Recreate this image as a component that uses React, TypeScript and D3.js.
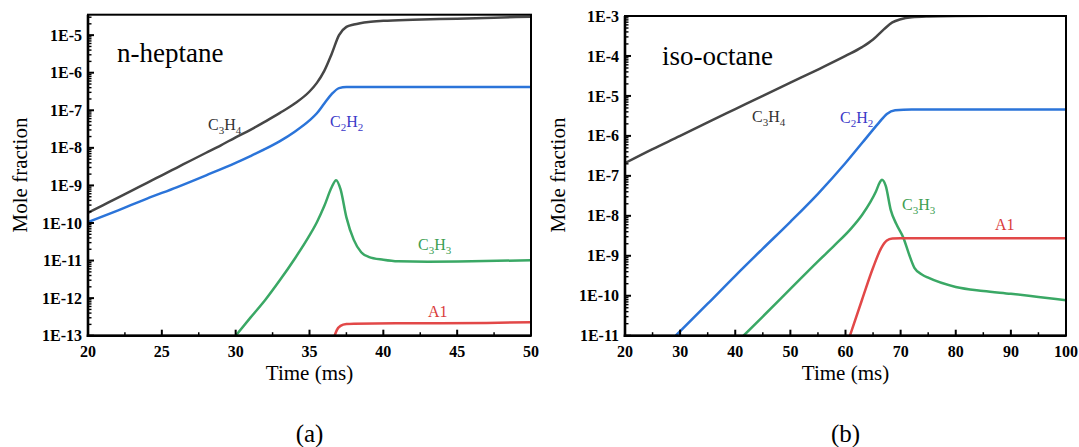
import * as d3 from "d3";

// ---- data (time in ms, mole fraction) ----
const hepC3H4T = [20, 21, 22, 23, 24, 25, 26, 27, 28, 29, 30, 31, 32, 33, 34, 35, 35.5, 36, 36.5, 37, 37.5, 38, 39, 40, 42, 45, 48, 50];
const hepC3H4 = [1.86e-10, 2.95e-10, 4.68e-10, 7.41e-10, 1.17e-9, 1.86e-9, 2.95e-9, 4.68e-9, 7.41e-9, 1.17e-8, 1.91e-8, 3.02e-8, 5.01e-8, 8.51e-8, 1.51e-7, 3.16e-7, 5.37e-7, 1.12e-6, 3.16e-6, 1.0e-5, 1.66e-5, 1.91e-5, 2.24e-5, 2.4e-5, 2.57e-5, 2.75e-5, 2.95e-5, 3.09e-5];

const hepC2H2T = [20, 22, 24, 26, 28, 30, 31, 32, 33, 34, 35, 35.5, 36, 36.5, 37, 37.5, 40, 50];
const hepC2H2 = [1.05e-10, 2.14e-10, 4.47e-10, 8.91e-10, 1.86e-9, 3.98e-9, 6.03e-9, 9.33e-9, 1.51e-8, 2.69e-8, 5.37e-8, 8.32e-8, 1.51e-7, 2.69e-7, 3.89e-7, 4.17e-7, 4.17e-7, 4.17e-7];

const hepC3H3T = [30, 31, 32, 33, 34, 35, 35.5, 36, 36.5, 36.8, 37.1, 37.5, 38, 38.5, 39, 40, 41, 43, 46, 50];
const hepC3H3 = [1.0e-13, 3.02e-13, 8.91e-13, 3.02e-12, 1.12e-11, 4.68e-11, 1.05e-10, 2.82e-10, 8.91e-10, 1.38e-9, 7.94e-10, 1.41e-10, 3.55e-11, 1.66e-11, 1.26e-11, 1.05e-11, 9.55e-12, 9.33e-12, 9.55e-12, 1.02e-11];

const hepA1T = [36.7, 36.85, 37.1, 37.5, 38, 42, 47, 50];
const hepA1 = [1.0e-13, 1.41e-13, 1.82e-13, 2.04e-13, 2.09e-13, 2.14e-13, 2.19e-13, 2.29e-13];

const isoC3H4T = [20, 25, 30, 35, 40, 45, 50, 55, 60, 63, 65, 67, 68.5, 70, 72, 75, 80, 90, 100];
const isoC3H4 = [2.09e-7, 4.68e-7, 1.0e-6, 2.19e-6, 4.68e-6, 1.0e-5, 2.14e-5, 4.57e-5, 1.0e-4, 1.66e-4, 2.57e-4, 4.68e-4, 6.92e-4, 8.32e-4, 9.33e-4, 9.77e-4, 1.0e-3, 1.01e-3, 1.02e-3];

const isoC2H2T = [29.2, 35, 40, 45, 50, 55, 60, 63, 66, 67.5, 69, 72, 100];
const isoC2H2 = [1.0e-11, 6.31e-11, 3.16e-10, 1.51e-9, 7.08e-9, 3.55e-8, 2.09e-7, 6.61e-7, 2.09e-6, 3.55e-6, 4.37e-6, 4.57e-6, 4.57e-6];

const isoC3H3T = [41.5, 45, 50, 55, 58, 61, 63, 64.5, 65.5, 66.2, 66.6, 67.3, 68.2, 69.2, 70.5, 71.5, 72.5, 74, 75, 80, 85, 90, 95, 100];
const isoC3H3 = [1.0e-11, 3.02e-11, 1.48e-10, 7.24e-10, 1.82e-9, 4.79e-9, 1.05e-8, 2.19e-8, 3.98e-8, 6.76e-8, 7.94e-8, 5.62e-8, 1.41e-8, 6.31e-9, 2.82e-9, 1.12e-9, 5.01e-10, 3.31e-10, 2.82e-10, 1.66e-10, 1.32e-10, 1.12e-10, 9.33e-11, 7.76e-11];

const isoA1T = [60.8, 63, 65, 66.5, 67.5, 68.5, 70, 100];
const isoA1 = [1.0e-11, 7.94e-11, 5.01e-10, 1.58e-9, 2.4e-9, 2.69e-9, 2.75e-9, 2.75e-9];

const hepXTicks = [20, 25, 30, 35, 40, 45, 50];
const isoXTicks = [20, 30, 40, 50, 60, 70, 80, 90, 100];
const hepYExps = [-13, -12, -11, -10, -9, -8, -7, -6, -5];
const isoYExps = [-11, -10, -9, -8, -7, -6, -5, -4, -3];

const FONT = "'Liberation Serif', 'Times New Roman', serif";

const colors = {
  C3H4: "#464646",
  C2H2: "#2b74d9",
  C3H3: "#3aa865",
  A1: "#e24848",
};
const labelColors = {
  C3H4: "#333333",
  C2H2: "#3a3ac8",
  C3H3: "#3c9e52",
  A1: "#d93a3a",
};

type Series = { key: keyof typeof colors; t: number[]; v: number[] };
type Label = { key: keyof typeof colors; x: number; y: number; main: string[]; subs: string[] };

type PanelProps = {
  id: string;
  title: string;
  titleX: number;
  titleY: number;
  xDomain: [number, number];
  xRange: [number, number];
  yDomain: [number, number];
  yRange: [number, number];
  xTicks: number[];
  yExps: number[];
  series: Series[];
  labels: Label[];
  yLabelX: number;
  caption: string;
};

function Panel(p: PanelProps) {
  const x = d3.scaleLinear().domain(p.xDomain).range(p.xRange);
  const y = d3.scaleLog().domain(p.yDomain).range(p.yRange);
  const [x0, x1] = p.xRange;
  const [yb, yt] = p.yRange;

  const line = (s: Series) =>
    d3
      .line<number>()
      .x((_, i) => x(s.t[i]))
      .y((d) => y(d))
      .curve(d3.curveMonotoneX)(s.v) || "";

  // minor log ticks
  const minorY: number[] = [];
  const lo = Math.floor(Math.log10(p.yDomain[0]));
  const hi = Math.ceil(Math.log10(p.yDomain[1]));
  for (let e = lo; e < hi; e++) {
    for (let k = 2; k <= 9; k++) {
      const v = k * Math.pow(10, e);
      if (v > p.yDomain[0] && v < p.yDomain[1]) minorY.push(v);
    }
  }
  const minorX: number[] = [];
  for (let i = 0; i < p.xTicks.length - 1; i++) minorX.push((p.xTicks[i] + p.xTicks[i + 1]) / 2);

  const cx = (x0 + x1) / 2;

  return (
    <g fontFamily={FONT}>
      <defs>
        <clipPath id={`clip-${p.id}`}>
          <rect x={x0} y={yt} width={x1 - x0} height={yb - yt} />
        </clipPath>
      </defs>
      <g clipPath={`url(#clip-${p.id})`}>
        {p.series.map((s) => (
          <path key={s.key} d={line(s)} fill="none" stroke={colors[s.key]} strokeWidth={2.5} strokeLinejoin="round" />
        ))}
      </g>
      {/* frame */}
      <rect x={x0} y={yt} width={x1 - x0} height={yb - yt} fill="none" stroke="#000" strokeWidth={2} />
      <line x1={x0} x2={x0} y1={yt} y2={yb + 1.3} stroke="#000" strokeWidth={2.6} />
      <line x1={x0 - 1.3} x2={x1} y1={yb} y2={yb} stroke="#000" strokeWidth={2.6} />
      {/* y ticks */}
      {p.yExps.map((e) => (
        <g key={e}>
          <line x1={x0} x2={x0 + 6} y1={y(Math.pow(10, e))} y2={y(Math.pow(10, e))} stroke="#000" strokeWidth={2} />
          <text x={x0 - 6} y={y(Math.pow(10, e))} dy="0.35em" textAnchor="end" fontSize={16} fontWeight="bold">
            {`1E${e}`}
          </text>
        </g>
      ))}
      {minorY.map((v, i) => (
        <line key={i} x1={x0} x2={x0 + 3.5} y1={y(v)} y2={y(v)} stroke="#000" strokeWidth={1.4} />
      ))}
      {/* x ticks */}
      {p.xTicks.map((t) => (
        <g key={t}>
          <line x1={x(t)} x2={x(t)} y1={yb} y2={yb - 6} stroke="#000" strokeWidth={2} />
          <text x={x(t)} y={357} textAnchor="middle" fontSize={16} fontWeight="bold">
            {t}
          </text>
        </g>
      ))}
      {minorX.map((t, i) => (
        <line key={i} x1={x(t)} x2={x(t)} y1={yb} y2={yb - 3.5} stroke="#000" strokeWidth={1.5} />
      ))}
      {/* axis titles */}
      <text x={cx} y={380} textAnchor="middle" fontSize={21}>
        Time (ms)
      </text>
      <text transform={`translate(${p.yLabelX},175) rotate(-90)`} textAnchor="middle" fontSize={21}>
        Mole fraction
      </text>
      {/* panel title */}
      <text x={p.titleX} y={p.titleY} fontSize={27}>
        {p.title}
      </text>
      {/* species labels */}
      {p.labels.map((l) => (
        <text key={l.key} x={l.x} y={l.y} fontSize={16} fill={labelColors[l.key]}>
          {l.main.map((m, i) => [
            <tspan key={`m${i}`} dy={i > 0 && l.subs[i - 1] ? -4 : 0}>
              {m}
            </tspan>,
            l.subs[i] ? (
              <tspan key={`s${i}`} fontSize={11} dy={4}>
                {l.subs[i]}
              </tspan>
            ) : null,
          ])}
        </text>
      ))}
      {/* caption */}
      <text x={cx} y={442} textAnchor="middle" fontSize={25}>
        {p.caption}
      </text>
    </g>
  );
}

export default function App() {
  return (
    <svg
      width={1079}
      height={447}
      style={{ position: "absolute", left: 0, top: 0, background: "#fff" }}
    >
      <rect width={1079} height={447} fill="#fff" />
      <Panel
        id="a"
        title="n-heptane"
        titleX={117}
        titleY={62}
        xDomain={[20, 50]}
        xRange={[88, 531]}
        yDomain={[1e-13, 3.5e-5]}
        yRange={[335.7, 14.7]}
        xTicks={hepXTicks}
        yExps={hepYExps}
        yLabelX={27}
        caption="(a)"
        series={[
          { key: "C3H4", t: hepC3H4T, v: hepC3H4 },
          { key: "C2H2", t: hepC2H2T, v: hepC2H2 },
          { key: "C3H3", t: hepC3H3T, v: hepC3H3 },
          { key: "A1", t: hepA1T, v: hepA1 },
        ]}
        labels={[
          { key: "C3H4", x: 208, y: 130, main: ["C", "H"], subs: ["3", "4"] },
          { key: "C2H2", x: 330, y: 127, main: ["C", "H"], subs: ["2", "2"] },
          { key: "C3H3", x: 418, y: 250, main: ["C", "H"], subs: ["3", "3"] },
          { key: "A1", x: 428, y: 317, main: ["A1"], subs: [""] },
        ]}
      />
      <Panel
        id="b"
        title="iso-octane"
        titleX={662}
        titleY={65}
        xDomain={[20, 100]}
        xRange={[625, 1066]}
        yDomain={[1e-11, 1e-3]}
        yRange={[335.7, 16]}
        xTicks={isoXTicks}
        yExps={isoYExps}
        yLabelX={565}
        caption="(b)"
        series={[
          { key: "C3H4", t: isoC3H4T, v: isoC3H4 },
          { key: "C2H2", t: isoC2H2T, v: isoC2H2 },
          { key: "C3H3", t: isoC3H3T, v: isoC3H3 },
          { key: "A1", t: isoA1T, v: isoA1 },
        ]}
        labels={[
          { key: "C3H4", x: 752, y: 122, main: ["C", "H"], subs: ["3", "4"] },
          { key: "C2H2", x: 840, y: 123, main: ["C", "H"], subs: ["2", "2"] },
          { key: "C3H3", x: 902, y: 210, main: ["C", "H"], subs: ["3", "3"] },
          { key: "A1", x: 995, y: 230, main: ["A1"], subs: [""] },
        ]}
      />
    </svg>
  );
}
